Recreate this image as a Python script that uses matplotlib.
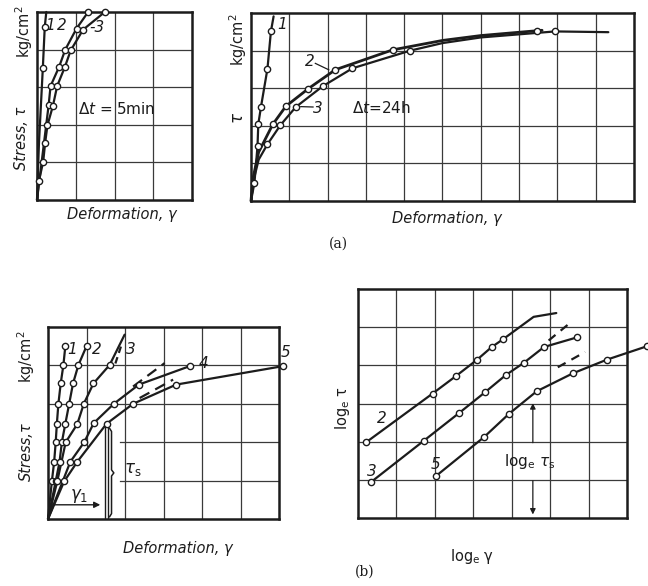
import matplotlib
matplotlib.use('Agg')
from matplotlib import pyplot as plt

# (a) left: dt = 5 min   (grid units, 4 x 5 cells)
a1_x = [0.15, 0.2]
a1_y = [3.5, 4.6]
a1_line_x = [0, 0.05, 0.15, 0.2, 0.24]
a1_line_y = [0, 1.5, 3.5, 4.6, 5.0]
a2_x = [0.3, 0.35, 0.57, 0.73, 1.02, 1.32]
a2_y = [2.52, 3.03, 3.54, 4.0, 4.56, 5.0]
a3_x = [0.05, 0.16, 0.21, 0.27, 0.41, 0.52, 0.72, 0.87, 1.19, 1.75]
a3_y = [0.51, 1.02, 1.52, 1.99, 2.5, 3.03, 3.54, 3.98, 4.53, 5.0]

# (a) right: dt = 24 h   (10 x 5 cells)
b1_x = [0.09, 0.17, 0.19, 0.26, 0.43, 0.52]
b1_y = [0.49, 1.46, 2.04, 2.5, 3.52, 4.51]
b1_line_x = [0, 0.09, 0.17, 0.19, 0.26, 0.43, 0.52, 0.59]
b1_line_y = [0, 0.49, 1.46, 2.04, 2.5, 3.52, 4.51, 4.91]
b2_x = [0.57, 0.91, 1.5, 2.2, 3.7, 7.48]
b2_y = [2.04, 2.52, 2.99, 3.49, 4.02, 4.53]
b2_line_x = [0, 0.05, 0.2, 0.57, 0.91, 1.5, 2.2, 3.7, 5.0, 6.0, 7.48, 7.6]
b2_line_y = [0, 0.6, 1.3, 2.04, 2.52, 2.99, 3.49, 4.02, 4.27, 4.4, 4.53, 4.54]
b3_x = [0.43, 0.77, 1.17, 1.87, 2.65, 4.16, 7.94]
b3_y = [1.51, 2.02, 2.5, 3.05, 3.53, 4.0, 4.51]
b3_line_x = [0, 0.08, 0.2, 0.43, 0.77, 1.17, 1.87, 2.65, 4.16, 5.0, 6.0, 7.94, 9.33]
b3_line_y = [0, 0.6, 1.1, 1.51, 2.02, 2.5, 3.05, 3.53, 4.0, 4.2, 4.35, 4.51, 4.49]

# (b) left: stress-deformation, 5 curves   (6 x 5 cells)
c1_x = [0.1, 0.16, 0.2, 0.23, 0.27, 0.33, 0.4, 0.45]
c1_y = [0.98, 1.49, 2.0, 2.48, 3.0, 3.53, 4.01, 4.5]
c2_x = [0.2, 0.3, 0.36, 0.45, 0.55, 0.65, 0.79, 1.0]
c2_y = [0.98, 1.49, 2.0, 2.48, 3.0, 3.53, 4.01, 4.5]
c3_x = [0.24, 0.46, 0.76, 0.93, 1.18, 1.6]
c3_y = [0.98, 2.0, 2.47, 3.0, 3.53, 4.01]
c3_end = (1.99, 4.8)
c4_x = [0.58, 0.94, 1.19, 1.71, 2.36, 3.68]
c4_y = [1.49, 2.0, 2.5, 3.0, 3.5, 3.98]
c5_x = [0.42, 0.76, 1.52, 2.21, 3.33, 6.1]
c5_y = [0.98, 1.49, 2.48, 3.0, 3.5, 3.98]

# (b) right: log-log   (7 x 6 cells)
d2_x = [0.22, 1.94, 2.55, 3.09, 3.48, 3.77]
d2_y = [1.99, 3.26, 3.72, 4.14, 4.48, 4.68]
d2_tail_x = [4.57, 5.16]
d2_tail_y = [5.27, 5.37]
d3_x = [0.35, 1.72, 2.63, 3.3, 3.84, 4.32, 4.84, 5.69]
d3_y = [0.95, 2.03, 2.75, 3.29, 3.74, 4.07, 4.48, 4.73]
d5_x = [2.03, 3.28, 3.93, 4.65, 5.59, 6.48, 7.52]
d5_y = [1.1, 2.12, 2.73, 3.32, 3.79, 4.15, 4.5]

W, H = 648, 586
INK = '#1c1c1c'
fig = plt.figure(figsize=(W/100, H/100), dpi=100)
fig.patch.set_facecolor('white')


def box(l, t, r, b, nx, ny, grid=True):
    ax = fig.add_axes([l/W, 1-b/H, (r-l)/W, (b-t)/H])
    ax.set_xlim(0, nx)
    ax.set_ylim(0, ny)
    ax.set_xticks([])
    ax.set_yticks([])
    for s in ax.spines.values():
        s.set_linewidth(1.8)
        s.set_color(INK)
    if grid:
        for i in range(1, nx):
            ax.axvline(i, color='#3a3a3a', lw=0.9, zorder=0)
        for j in range(1, ny):
            ax.axhline(j, color='#3a3a3a', lw=0.9, zorder=0)
    return ax


def curve(ax, lx, ly, mx, my, lw=1.6):
    ax.plot(lx, ly, color=INK, lw=lw, clip_on=False, zorder=3, solid_capstyle='round')
    ax.plot(mx, my, 'o', ms=4.5, mfc='white', mec=INK, mew=1.0, clip_on=False, zorder=4)


def ftext(x, y, s, rot=0, size=10.5, style='italic', **kw):
    fig.text(x/W, 1-y/H, s, rotation=rot, fontsize=size, style=style,
             ha='center', va='center', color=INK, **kw)


lab = dict(fontsize=11, style='italic', color=INK, ha='center', va='center')

# ---- (a) left
ax = box(37, 12, 192, 200, 4, 5)
curve(ax, a1_line_x, a1_line_y, a1_x, a1_y)
curve(ax, [0] + a2_x, [0] + a2_y, a2_x, a2_y)
curve(ax, [0] + a3_x, [0] + a3_y, a3_x, a3_y)
ax.text(0.33, 4.65, '1', **lab)
ax.text(0.65, 4.65, '2', **lab)
ax.text(1.55, 4.6, '-3', **lab)
ax.text(2.05, 2.43, r'$\Delta t$ = 5min', fontsize=11, color=INK, ha='center', va='center')

# ---- (a) right
ax = box(251, 13, 634, 201, 10, 5)
curve(ax, b1_line_x, b1_line_y, b1_x, b1_y)
curve(ax, b2_line_x, b2_line_y, b2_x, b2_y, lw=2.0)
curve(ax, b3_line_x, b3_line_y, b3_x, b3_y)
ax.text(0.81, 4.69, '1', **lab)
ax.text(1.53, 3.71, '2', **lab)
ax.plot([1.68, 2.03], [3.66, 3.49], color=INK, lw=0.9)
ax.text(1.74, 2.47, '3', **lab)
ax.plot([1.3, 1.62], [2.51, 2.5], color=INK, lw=0.9)
ax.text(3.4, 2.47, r'$\Delta t$=24h', fontsize=11, color=INK, ha='center', va='center')

# ---- (b) left
ax = box(48, 327, 279, 519, 6, 5, grid=False)
for i in range(2, 6):
    ax.axvline(i, color='#3a3a3a', lw=0.9, zorder=0)
ax.plot([1, 1], [1.9, 5], color='#3a3a3a', lw=0.9, zorder=0)
for j in (3, 4):
    ax.axhline(j, color='#3a3a3a', lw=0.9, zorder=0)
for j in (1, 2):
    ax.plot([1.86, 6], [j, j], color='#3a3a3a', lw=0.9, zorder=0)
curve(ax, [0] + c1_x, [0] + c1_y, c1_x, c1_y)
curve(ax, [0] + c2_x, [0] + c2_y, c2_x, c2_y)
curve(ax, [0] + c3_x + [c3_end[0]], [0] + c3_y + [c3_end[1]], c3_x, c3_y)
curve(ax, [0] + c4_x, [0] + c4_y, c4_x, c4_y)
curve(ax, [0] + c5_x, [0] + c5_y, c5_x, c5_y)
ax.plot([1.75, 1.93], [4.05, 4.6], color=INK, lw=1.6, ls=(0, (3, 2)))
ax.plot([2.21, 3.03], [3.45, 4.06], color=INK, lw=1.6, ls=(0, (5, 3)))
ax.plot([2.38, 3.25], [3.15, 3.63], color=INK, lw=1.6, ls=(0, (5, 3)))
ax.text(0.63, 4.41, '1', **lab)
ax.text(1.26, 4.41, '2', **lab)
ax.text(2.16, 4.41, '3', **lab)
ax.text(4.03, 4.06, '4', **lab)
ax.text(6.17, 4.33, '5', **lab)
ax.plot([1.48, 1.48], [0, 2.4], color=INK, lw=1.0)
ax.plot([1.56, 1.56], [0, 2.4], color=INK, lw=1.0)
# curly brace beside tau_s
ax.plot([1.6, 1.65, 1.65, 1.71, 1.65, 1.65, 1.6],
        [0.06, 0.14, 1.12, 1.2, 1.28, 2.28, 2.36], color=INK, lw=1.1)
ax.text(2.2, 1.3, r'$\tau_{\rm s}$', fontsize=12, color=INK, ha='center', va='center')
ax.annotate('', xy=(1.43, 0.37), xytext=(0.04, 0.37),
            arrowprops=dict(arrowstyle='-|>', color=INK, lw=1.0, mutation_scale=9))
ax.text(0.82, 0.6, r'$\gamma_1$', fontsize=12, color=INK, ha='center', va='center')

# ---- (b) right
ax = box(358, 289, 627, 518, 7, 6)
curve(ax, d2_x + d2_tail_x, d2_y + d2_tail_y, d2_x, d2_y)
curve(ax, d3_x, d3_y, d3_x, d3_y)
curve(ax, d5_x, d5_y, d5_x, d5_y)
ax.plot([4.96, 5.48], [4.65, 5.08], color=INK, lw=1.6, ls=(0, (4, 3)))
ax.plot([5.2, 5.91], [3.95, 4.35], color=INK, lw=1.6, ls=(0, (4, 3)))
ax.text(0.61, 2.62, '2', **lab)
ax.text(0.35, 1.23, '3', **lab)
ax.text(2.03, 1.4, '5', **lab)
ax.annotate('', xy=(4.55, 3.08), xytext=(4.55, 1.9),
            arrowprops=dict(arrowstyle='-|>', color=INK, lw=0.9, mutation_scale=8))
ax.annotate('', xy=(4.55, 0.02), xytext=(4.55, 1.05),
            arrowprops=dict(arrowstyle='-|>', color=INK, lw=0.9, mutation_scale=8))
ax.text(4.48, 1.47, r'log$_{\rm e}$ $\tau_{\rm s}$', fontsize=11, color=INK,
        ha='center', va='center')

# outer labels
ftext(22, 138, 'Stress, τ', rot=90)
ftext(24, 32, 'kg/cm$^2$', rot=90, style='normal')
ftext(122, 215, 'Deformation, γ')
ftext(237, 117, 'τ', rot=90, size=12)
ftext(238, 40, 'kg/cm$^2$', rot=90, style='normal')
ftext(447, 219, 'Deformation, γ')
ftext(338, 244, '(a)', style='normal', size=10, family='DejaVu Serif')
ftext(26, 452, 'Stress,τ', rot=90)
ftext(26, 357, 'kg/cm$^2$', rot=90, style='normal')
ftext(178, 548, 'Deformation, γ')
ftext(342, 408, r'log$_{\rm e}$ τ', rot=90, style='normal')
ftext(472, 557, r'log$_{\rm e}$ γ', style='normal')
ftext(365, 572, '(b)', style='normal', size=10, family='DejaVu Serif')

plt.savefig('out.png', dpi=100, facecolor='white')
